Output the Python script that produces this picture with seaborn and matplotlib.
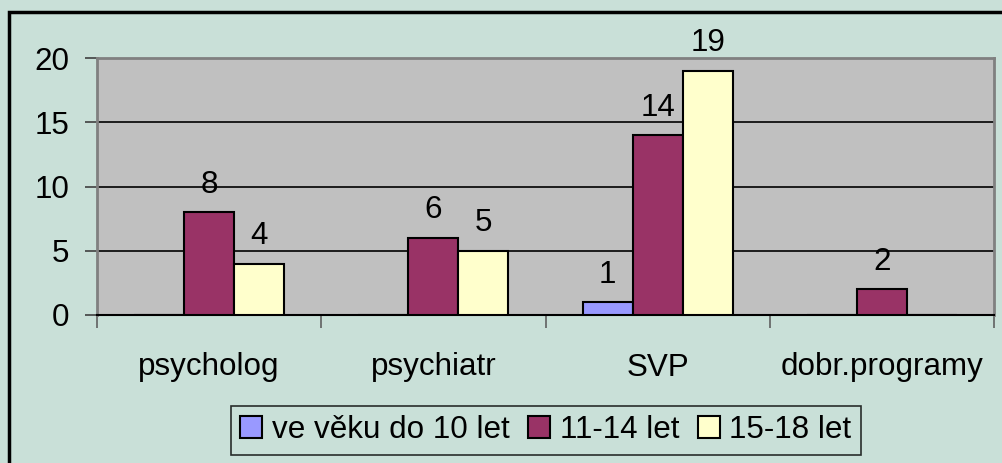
import matplotlib
matplotlib.use("Agg")
import matplotlib.pyplot as plt
import seaborn as sns
import pandas as pd
from matplotlib.patches import Rectangle

categories = ["psycholog", "psychiatr", "SVP", "dobr.programy"]
series_names = ["ve věku do 10 let", "11-14 let", "15-18 let"]
vals_do10 = [0, 0, 1, 0]
vals_11_14 = [8, 6, 14, 2]
vals_15_18 = [4, 5, 19, 0]
colors = ["#9999FF", "#993366", "#FFFFCC"]

rows = []
for s, vals in zip(series_names, [vals_do10, vals_11_14, vals_15_18]):
    for c, v in zip(categories, vals):
        rows.append({"cat": c, "series": s, "val": v})
df = pd.DataFrame(rows)

sns.set_theme(style="white")
plt.rcParams["font.family"] = ["Liberation Sans", "DejaVu Sans"]
plt.rcParams["text.color"] = "black"
plt.rcParams["xtick.color"] = "black"
plt.rcParams["ytick.color"] = "black"
plt.rcParams["xtick.labelcolor"] = "black"
plt.rcParams["ytick.labelcolor"] = "black"
FS = 22.6

W, H = 1002, 463
fig = plt.figure(figsize=(W / 100, H / 100), dpi=100)
bg = "#C9E0D8"
fig.patch.set_facecolor(bg)
ax = fig.add_axes([97 / W, 1 - 315 / H, (994 - 97) / W, (315 - 58) / H])
ax.set_facecolor("#C0C0C0")

sns.barplot(data=df, x="cat", y="val", hue="series", order=categories,
            hue_order=series_names, palette=colors, width=0.67, gap=0,
            edgecolor="black", linewidth=1.5, saturation=1, ax=ax,
            legend=True, zorder=3)

for cont in ax.containers:
    labels = [f"{b.get_height():g}" if b.get_height() > 0 else "" for b in cont]
    ax.bar_label(cont, labels=labels, padding=9, fontsize=FS, color="black")

ax.set_ylim(0, 20)
ax.set_xlim(-0.5, 3.5)
ax.set_yticks([0, 5, 10, 15, 20])
ax.yaxis.grid(True, color="black", linewidth=1.2, zorder=0)
ax.set_axisbelow(True)
ax.tick_params(axis="y", direction="out", length=9, width=1.2, color="#404040",
               pad=11, labelsize=FS, left=True, labelcolor="black")
ax.set_xticks([0, 1, 2, 3])
ax.set_xticks([-0.5, 0.5, 1.5, 2.5, 3.5], minor=True)
ax.tick_params(axis="x", which="major", length=0, pad=27, labelsize=FS,
               labelcolor="black")
ax.tick_params(axis="x", which="minor", direction="out", length=9, width=1.2,
               color="#606060", bottom=True)
ax.set_xlabel("")
ax.set_ylabel("")
for side in ["top", "right", "left"]:
    ax.spines[side].set_color("#808080")
    ax.spines[side].set_linewidth(2)
ax.spines["bottom"].set_color("black")
ax.spines["bottom"].set_linewidth(1.5)

handles, labels = ax.get_legend_handles_labels()
ax.get_legend().remove()
leg = fig.legend(handles, labels, loc="upper center",
                 bbox_to_anchor=(546 / W, 1 - 406 / H), ncol=3, fontsize=FS,
                 frameon=True, fancybox=False, handlelength=0.7,
                 handleheight=0.7, handletextpad=0.3, columnspacing=0.6,
                 borderpad=0.3, borderaxespad=0, labelcolor="black")
leg.get_frame().set_edgecolor("black")
leg.get_frame().set_facecolor(bg)
leg.get_frame().set_linewidth(1.2)

fig.patches.append(Rectangle((9 / W, -0.2), 1.2, 1 - 12 / H + 0.2,
                             transform=fig.transFigure, fill=False,
                             edgecolor="black", linewidth=2.5, zorder=10))

fig.savefig("out.png", dpi=100, facecolor=fig.get_facecolor())
